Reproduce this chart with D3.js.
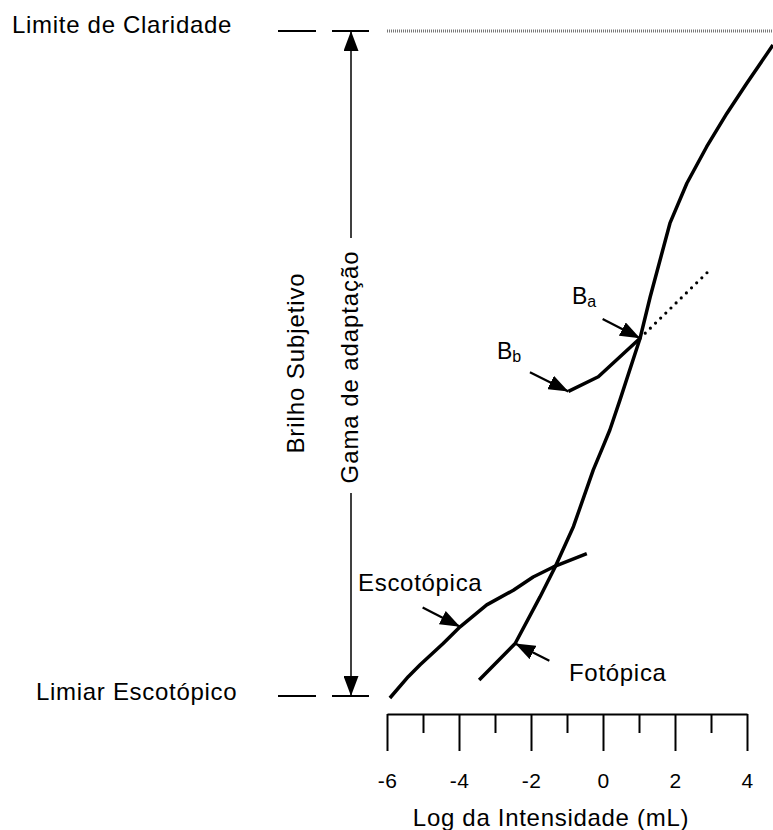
<!DOCTYPE html>
<html>
<head>
<meta charset="utf-8">
<script src="https://cdn.jsdelivr.net/npm/d3@7"></script>
<style>
  body { margin: 0; background: #fff; }
  svg text { font-family: "Liberation Sans", Arial, sans-serif; fill: #000; }
</style>
</head>
<body>
<div id="viz"></div>
<script>
// log intensity (mL) vs subjective brightness (arbitrary units, 0 = limiar, 10 = limite)
const majorTicks = [-6, -4, -2, 0, 2, 4];
const minorTicks = [-5, -3, -1, 1, 3];

const photopic = [[-3.44, 0.24], [-2.44, 0.79], [-1.75, 1.49], [-1.33, 1.94], [-0.82, 2.55],
  [-0.27, 3.40], [0.0, 3.75], [0.19, 4.0], [0.47, 4.45], [1.03, 5.38], [1.31, 6.0],
  [1.86, 7.11], [2.33, 7.71], [2.88, 8.26], [3.44, 8.76], [3.99, 9.21], [4.72, 9.79]];
const scotopic = [[-5.92, -0.03], [-5.41, 0.29], [-5.08, 0.47], [-4.44, 0.79], [-3.97, 1.04],
  [-3.23, 1.37], [-2.49, 1.59], [-1.94, 1.79], [-1.38, 1.94], [-0.45, 2.14]];
const branchBb = [[-0.96, 4.58], [-0.13, 4.80], [1.03, 5.38]];
const branchBa = [[1.03, 5.38], [3.03, 6.44]];

const limiteClaridade = 10;
const limiarEscotopico = 0;

// arrows pointing at the curves: [from, to]
const arrows = [
  {name: "Ba", from: [-0.01, 5.67], to: [1.03, 5.38]},
  {name: "Bb", from: [-2.03, 4.87], to: [-0.96, 4.58]},
  {name: "Escotópica", from: [-5.01, 1.33], to: [-3.97, 1.04]},
  {name: "Fotópica", from: [-1.49, 0.53], to: [-2.44, 0.79]}
];

function buildChart(width, height) {
  let svg = d3.select("#viz")
    .append("svg")
      .attr("width", width)
      .attr("height", height);

  let xScale = d3.scaleLinear()
    .domain([-6, 4])
    .range([387, 747]);
  let yScale = d3.scaleLinear()
    .domain([0, 10])
    .range([696, 31]);

  let axisY = 714;

  // arrowhead marker
  svg.append("defs").append("marker")
      .attr("id", "head")
      .attr("viewBox", "0 0 20 15")
      .attr("refX", 20)
      .attr("refY", 7.5)
      .attr("markerWidth", 20)
      .attr("markerHeight", 15)
      .attr("markerUnits", "userSpaceOnUse")
      .attr("orient", "auto")
    .append("path")
      .attr("d", "M0,0 L20,7.5 L0,15 Z")
      .attr("fill", "#000");

  // Add X axis (major ticks with labels, minor ticks without):
  let majorAxis = svg.append("g")
    .attr("transform", "translate(0," + axisY + ")")
    .call(d3.axisBottom(xScale)
      .tickValues(majorTicks)
      .tickSize(37)
      .tickSizeOuter(0)
      .tickPadding(0)
      .tickFormat(d3.format("d")));
  majorAxis.select(".domain").attr("stroke-width", 2).attr("stroke", "#000");
  majorAxis.selectAll(".tick line").attr("stroke-width", 2).attr("stroke", "#000");
  majorAxis.selectAll(".tick text")
    .attr("y", 74)
    .attr("dy", 0)
    .style("font-size", "21px")
    .style("letter-spacing", "0.5px")
    .text(d => d < 0 ? "-" + Math.abs(d) : d);

  let minorAxis = svg.append("g")
    .attr("transform", "translate(0," + axisY + ")")
    .call(d3.axisBottom(xScale)
      .tickValues(minorTicks)
      .tickSize(19)
      .tickSizeOuter(0)
      .tickFormat(""));
  minorAxis.select(".domain").remove();
  minorAxis.selectAll(".tick line").attr("stroke-width", 2).attr("stroke", "#000");

  // Add X axis label:
  svg.append("text")
    .attr("x", 551)
    .attr("y", 826)
    .attr("text-anchor", "middle")
    .style("font-size", "24px")
    .style("letter-spacing", "0.7px")
    .text("Log da Intensidade (mL)");

  // limit lines (top: claridade, bottom: limiar)
  svg.append("line")
    .attr("x1", 387).attr("x2", width)
    .attr("y1", yScale(limiteClaridade)).attr("y2", yScale(limiteClaridade))
    .attr("stroke", "#777")
    .attr("stroke-width", 3)
    .attr("stroke-dasharray", "1 1");

  [limiteClaridade, limiarEscotopico].forEach(function (v) {
    [[278, 316], [332, 369]].forEach(function (seg) {
      svg.append("line")
        .attr("x1", seg[0]).attr("x2", seg[1])
        .attr("y1", yScale(v)).attr("y2", yScale(v))
        .attr("stroke", "#000")
        .attr("stroke-width", 2);
    });
  });

  svg.append("text")
    .attr("x", 12).attr("y", 33)
    .style("font-size", "24px")
    .style("letter-spacing", "0.7px")
    .text("Limite de Claridade");
  svg.append("text")
    .attr("x", 36).attr("y", 700)
    .style("font-size", "24px")
    .style("letter-spacing", "0.7px")
    .text("Limiar Escotópico");

  // adaptation range double arrow, broken by its label
  let arrowX = 351;
  svg.append("line")
    .attr("x1", arrowX).attr("x2", arrowX)
    .attr("y1", 238).attr("y2", yScale(limiteClaridade))
    .attr("stroke", "#000").attr("stroke-width", 1.5)
    .attr("marker-end", "url(#head)");
  svg.append("line")
    .attr("x1", arrowX).attr("x2", arrowX)
    .attr("y1", 493).attr("y2", yScale(limiarEscotopico))
    .attr("stroke", "#000").attr("stroke-width", 1.5)
    .attr("marker-end", "url(#head)");

  svg.append("text")
    .attr("transform", "translate(358,367) rotate(-90)")
    .attr("text-anchor", "middle")
    .style("font-size", "24px")
    .style("letter-spacing", "0.9px")
    .text("Gama de adaptação");
  svg.append("text")
    .attr("transform", "translate(304,363) rotate(-90)")
    .attr("text-anchor", "middle")
    .style("font-size", "24px")
    .style("letter-spacing", "0.9px")
    .text("Brilho Subjetivo");

  // curves
  let line = d3.line()
    .x(d => xScale(d[0]))
    .y(d => yScale(d[1]));

  [photopic, scotopic, branchBb].forEach(function (series) {
    svg.append("path")
      .datum(series)
      .attr("d", line)
      .attr("fill", "none")
      .attr("stroke", "#000")
      .attr("stroke-width", 3.5)
      .attr("stroke-linejoin", "round");
  });

  svg.append("path")
    .datum(branchBa)
    .attr("d", line)
    .attr("fill", "none")
    .attr("stroke", "#000")
    .attr("stroke-width", 3.2)
    .attr("stroke-linecap", "round")
    .attr("stroke-dasharray", "0 7.2");

  // annotation arrows
  svg.selectAll(".note-arrow")
    .data(arrows)
    .enter()
    .append("line")
      .attr("class", "note-arrow")
      .attr("x1", d => xScale(d.from[0]))
      .attr("y1", d => yScale(d.from[1]))
      .attr("x2", d => xScale(d.to[0]))
      .attr("y2", d => yScale(d.to[1]))
      .attr("stroke", "#000")
      .attr("stroke-width", 2.2)
      .attr("marker-end", "url(#head)");

  // annotation labels
  let ba = svg.append("text")
    .attr("x", 572).attr("y", 304)
    .style("font-size", "23px");
  ba.append("tspan").text("B");
  ba.append("tspan").attr("dy", 3).style("font-size", "16px").text("a");

  let bb = svg.append("text")
    .attr("x", 497).attr("y", 359)
    .style("font-size", "23px");
  bb.append("tspan").text("B");
  bb.append("tspan").attr("dy", 3).style("font-size", "16px").text("b");

  svg.append("text")
    .attr("x", 358).attr("y", 591)
    .style("font-size", "24px")
    .style("letter-spacing", "0.7px")
    .text("Escotópica");
  svg.append("text")
    .attr("x", 569).attr("y", 681)
    .style("font-size", "24px")
    .style("letter-spacing", "0.7px")
    .text("Fotópica");

  return [xScale, yScale];
}

buildChart(773, 830);
</script>
</body>
</html>
